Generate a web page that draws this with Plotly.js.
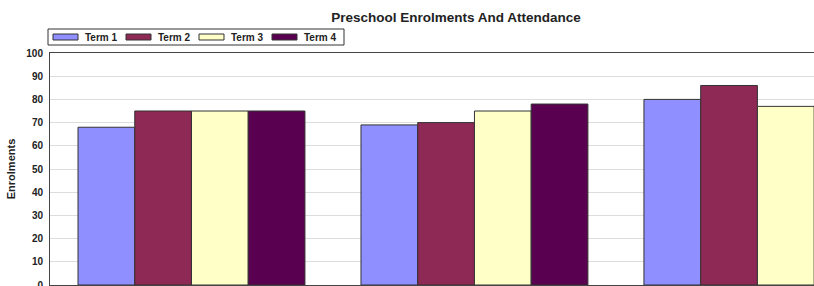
<!DOCTYPE html>
<html><head><meta charset="utf-8">
<script src="https://cdn.plot.ly/plotly-3.0.1.min.js"></script>
<style>html,body{margin:0;padding:0;overflow:hidden;background:#fff}</style>
</head><body>
<div id="chart"></div>
<script>
const categories = ["Group 1", "Group 2", "Group 3"];
const seriesNames = ["Term 1", "Term 2", "Term 3", "Term 4"];
const term1 = [68, 69, 80];
const term2 = [75, 70, 86];
const term3 = [75, 75, 77];
const term4 = [75, 78, null];
const yTicks = [0, 10, 20, 30, 40, 50, 60, 70, 80, 90, 100];
const colors = ["#8f8fff", "#8e2955", "#ffffc8", "#5a0050"];

const W = 814, H = 320, ML = 50, MT = 53, MB = 35;
const PW = W - ML, PH = H - MT - MB;
const px = x => (x - ML) / PW;
const py = y => (H - MB - y) / PH;

const values = [term1, term2, term3, term4];
const traces = values.map((v, i) => ({
  type: "bar", name: seriesNames[i], x: categories, y: v,
  marker: {color: colors[i], line: {color: "#333", width: 1}},
  hoverinfo: "skip", showlegend: false
}));

// manual legend (box, swatches, labels)
const shapes = [{type: "rect", xref: "paper", yref: "paper", x0: px(48), x1: px(344), y0: py(45), y1: py(29),
                 line: {color: "#333", width: 1}, fillcolor: "#fff", layer: "above"}];
const annotations = [];
seriesNames.forEach((n, i) => {
  shapes.push({type: "rect", xref: "paper", yref: "paper", x0: px(53 + i * 73), x1: px(78 + i * 73),
               y0: py(40), y1: py(34), line: {color: "#333", width: 1}, fillcolor: colors[i], layer: "above"});
  annotations.push({text: "<b>" + n + "</b>", xref: "paper", yref: "paper", x: px(83 + i * 73), y: py(37),
                    xanchor: "left", yanchor: "middle", showarrow: false, font: {size: 10, color: "#222"}});
});

const layout = {
  width: W, height: H,
  margin: {l: ML, r: 0, t: MT, b: MB},
  paper_bgcolor: "#fff", plot_bgcolor: "#fff",
  font: {family: "Liberation Sans, Arial, sans-serif", color: "#222"},
  title: {text: "<b>Preschool Enrolments And Attendance</b>", font: {size: 13.5, color: "#222"},
          x: 456 / W, xref: "container", xanchor: "center", y: 1 - 17 / H, yref: "container", yanchor: "middle"},
  barmode: "group", bargap: 0.198, bargroupgap: 0,
  showlegend: false,
  shapes: shapes, annotations: annotations,
  xaxis: {type: "category", range: [-0.5, 2.2], showgrid: false, showline: true, linecolor: "#444", linewidth: 1,
          mirror: true, ticks: "", showticklabels: false, fixedrange: true},
  yaxis: {range: [0, 100], tickvals: yTicks, ticktext: yTicks.map(String), showgrid: true, gridcolor: "#dddddd",
          showline: true, linecolor: "#444", linewidth: 1, zeroline: false, ticks: "", ticklabelstandoff: 4,
          tickfont: {size: 10, color: "#222", weight: "bold"},
          title: {text: "<b>Enrolments</b>", font: {size: 11, color: "#222"}, standoff: 8}}
};
Plotly.newPlot("chart", traces, layout, {displayModeBar: false, staticPlot: true});
</script>
</body></html>
